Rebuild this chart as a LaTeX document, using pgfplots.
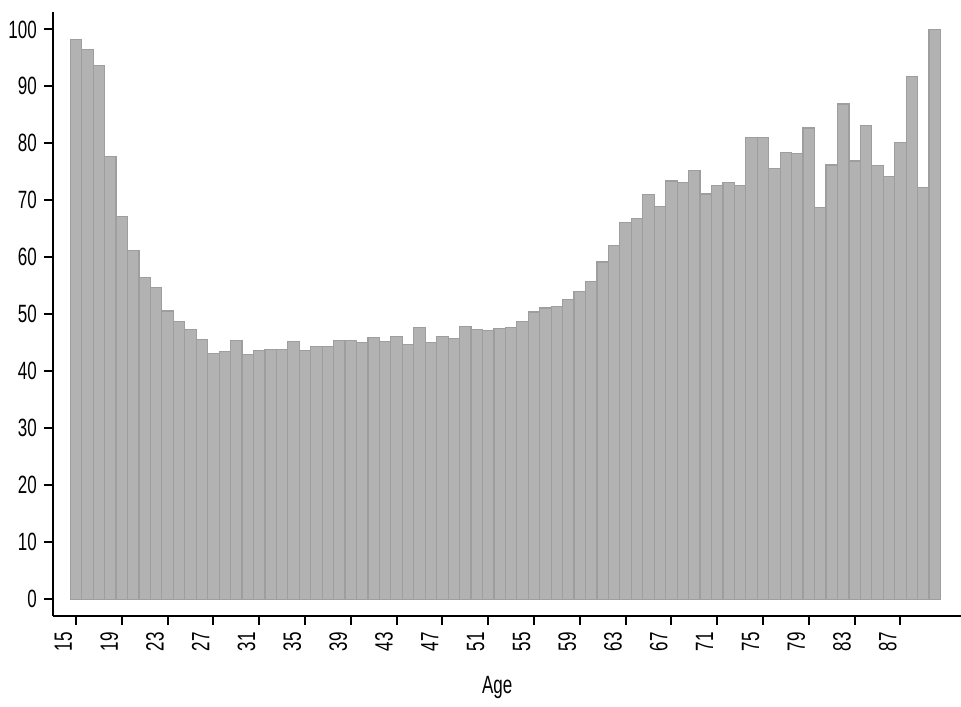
\documentclass[border=0pt]{standalone}
\usepackage{fontspec}
\setmainfont{Liberation Sans}[FakeStretch=0.68]
\usepackage{pgfplots}
\pgfplotsset{compat=1.18}
\usetikzlibrary{calc}

\definecolor{barfill}{RGB}{178,178,178}
\definecolor{baredge}{RGB}{158,158,158}

\pgfplotstableread{
age val
15 98.2
16 96.5
17 93.6
18 77.7
19 67.2
20 61.2
21 56.4
22 54.7
23 50.6
24 48.8
25 47.4
26 45.6
27 43.1
28 43.5
29 45.4
30 43.0
31 43.7
32 43.8
33 43.9
34 45.2
35 43.7
36 44.4
37 44.4
38 45.4
39 45.4
40 45.1
41 45.9
42 45.2
43 46.1
44 44.7
45 47.7
46 45.1
47 46.1
48 45.7
49 47.8
50 47.4
51 47.2
52 47.5
53 47.7
54 48.7
55 50.4
56 51.1
57 51.4
58 52.6
59 54.0
60 55.7
61 59.2
62 62.1
63 66.1
64 66.8
65 71.0
66 68.9
67 73.4
68 73.1
69 75.2
70 71.1
71 72.6
72 73.1
73 72.6
74 81.0
75 81.0
76 75.6
77 78.4
78 78.2
79 82.7
80 68.7
81 76.2
82 86.9
83 76.9
84 83.1
85 76.1
86 74.2
87 80.1
88 91.8
89 72.2
90 100.0
}\agedata

\begin{document}
\begin{tikzpicture}
\begin{axis}[
    scale only axis, width=453.85pt, height=301.7pt,
    xmin=13.02, xmax=92.29, ymin=-2.88, ymax=103.0,
    axis lines=left, axis line style={-, line width=1pt, black},
    tick style={black, line width=1pt}, tick align=outside,
    major tick length=4.75pt,
    xtick={15,19,...,87}, ytick={0,10,...,100},
    /pgf/number format/assume math mode=true,
    tick label style={font=\fontsize{12.5pt}{15pt}\selectfont},
    yticklabel style={anchor=east},
    xticklabel style={xshift=-2pt, rotate=90, anchor=base east},
    xlabel={Age},
    xlabel style={font=\fontsize{12.5pt}{15pt}\selectfont, at={(rel axis cs:0.489,0)}, yshift=-36pt, anchor=center},
    ybar, bar width=1, clip=false,
]
\addplot[fill=barfill, draw=baredge, line width=0.6pt] table[x=age, y=val] {\agedata};
\end{axis}
\pgfresetboundingbox
\path ($(current axis.south west)+(-26.65pt,-45.65pt)$) rectangle ($(current axis.north east)+(0pt,6.15pt)$);
\end{tikzpicture}
\end{document}
